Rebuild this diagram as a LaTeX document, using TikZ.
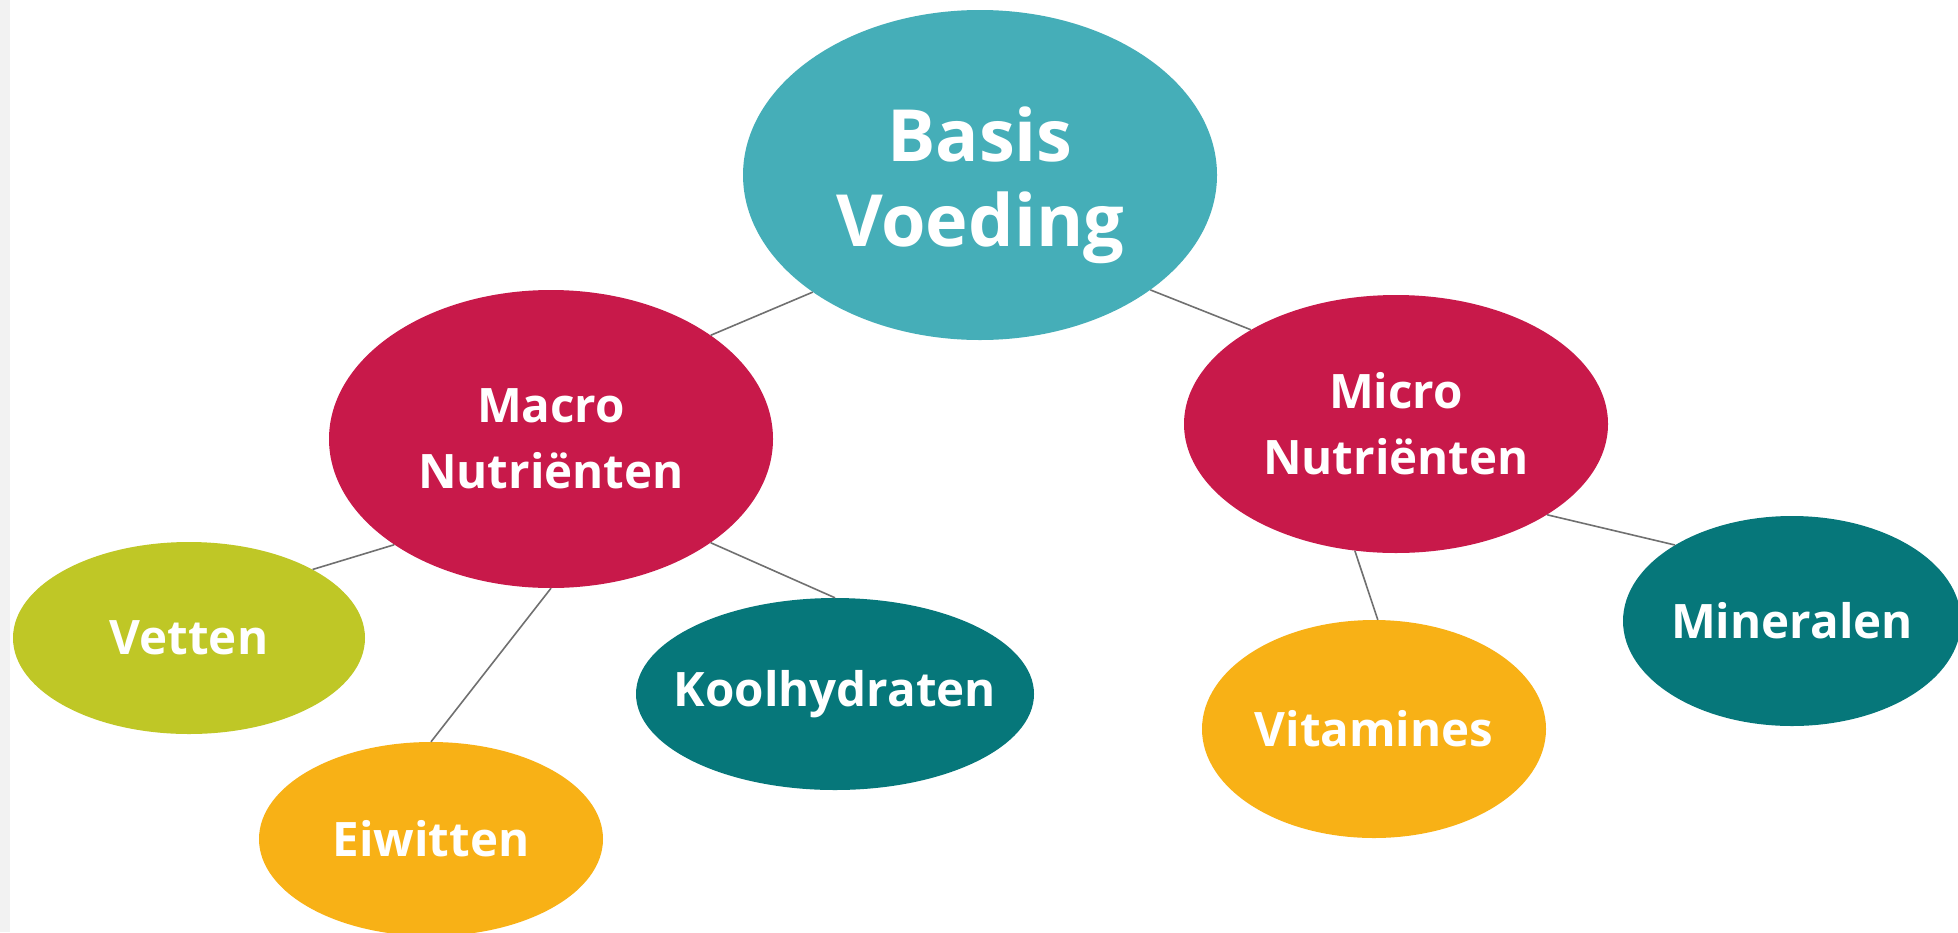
\documentclass[tikz,border=0pt]{standalone}
\usepackage{fontspec}
\setmainfont{Open Sans}
\usetikzlibrary{shapes.geometric}
\definecolor{cBasis}{HTML}{45AEB8}
\definecolor{cRed}{HTML}{C8194A}
\definecolor{cLime}{HTML}{BFC726}
\definecolor{cAmber}{HTML}{F8B116}
\definecolor{cTeal}{HTML}{06777A}
\definecolor{cLine}{HTML}{707070}
\definecolor{cStrip}{HTML}{F2F2F2}
\newcommand{\nowidth}[1]{\makebox[0pt]{#1}}
\tikzset{
  bubble/.style={ellipse, inner sep=0pt, text=white, align=center},
  midfont/.style={font=\bfseries\fontsize{47.5}{66}\selectfont},
  bigfont/.style={font=\bfseries\fontsize{72}{85}\selectfont},
  link/.style={draw=cLine, line width=1.6pt}
}
\begin{document}
\begin{tikzpicture}[x=1pt,y=-1pt]
\useasboundingbox (0,0) rectangle (1958,932);
\clip (0,0) rectangle (1958,932);
\fill[white] (0,0) rectangle (1958,932);
\fill[cStrip] (0,0) rectangle (10,932);

\node[bubble, bigfont, fill=cBasis, minimum width=474pt, minimum height=330pt] (basis) at (980,175) {\rule{0pt}{76pt}Basis\\Voeding};
\node[bubble, midfont, fill=cRed, minimum width=444pt, minimum height=298pt] (macro) at (551,439) {Macro\\Nutriënten};
\node[bubble, midfont, fill=cRed, minimum width=424pt, minimum height=258pt] (micro) at (1396,424) {Micro\\Nutriënten};
\node[bubble, midfont, fill=cLime, minimum width=352pt, minimum height=192pt] (vetten) at (189,638) {\nowidth{Vetten}};
\node[bubble, midfont, fill=cAmber, minimum width=344pt, minimum height=194pt] (eiwitten) at (431,839) {\nowidth{Eiwitten}};
\node[bubble, midfont, fill=cTeal, minimum width=398pt, minimum height=192pt] (kool) at (835,694) {\nowidth{Koolhydraten}};
\node[bubble, midfont, fill=cAmber, minimum width=344pt, minimum height=218pt] (vitamines) at (1374,729) {\nowidth{Vitamines}};
\node[bubble, midfont, fill=cTeal, minimum width=338pt, minimum height=210pt] (mineralen) at (1792,621) {\nowidth{Mineralen}};

\draw[link] (basis.215.5) -- (macro.33);
\draw[link] (basis.-34.4) -- (micro.147.6);
\draw[link] (macro.214) -- (vetten.29);
\draw[link] (macro.270) -- (eiwitten.90);
\draw[link] (macro.-33.8) -- (kool.90.7);
\draw[link] (micro.252) -- (vitamines.88.7);
\draw[link] (micro.-31) -- (mineralen.147);
\end{tikzpicture}
\end{document}
